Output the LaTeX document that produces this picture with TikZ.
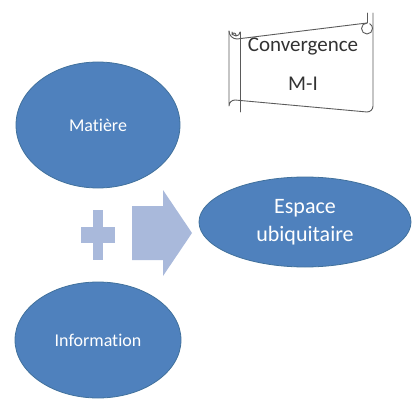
\documentclass[tikz,border=0pt]{standalone}
\usepackage{fontspec}
\setmainfont[Ligatures=CommonOff]{Carlito}
\usetikzlibrary{shapes.geometric}
\definecolor{ovalblue}{HTML}{4F81BD}
\definecolor{ovaledge}{HTML}{41719C}
\definecolor{paleblue}{HTML}{A9B9DB}
\definecolor{scrollline}{HTML}{5A5A5A}
\tikzset{
  oval/.style={ellipse, fill=ovalblue, draw=ovaledge, line width=0.8pt,
    text=white, inner sep=0pt, align=center},
  pale/.style={fill=paleblue, draw=none},
  scrollpen/.style={draw=scrollline, line width=0.9pt, line join=round, line cap=round},
  scrolltext/.style={text=black!80, inner sep=0pt, font=\fontsize{21}{24}\selectfont}
}
\begin{document}
\begin{tikzpicture}[x=1pt,y=-1pt]
\useasboundingbox (0,0) rectangle (412,401);

% the two source ovals and the resulting one
\node[oval, minimum width=164, minimum height=126, font=\fontsize{18}{20}\selectfont]
  (matiere) at (98,125) {Matière};
\node[oval, minimum width=166, minimum height=116, font=\fontsize{18}{20}\selectfont]
  (information) at (98,340) {Information};
\node[oval, minimum width=212, minimum height=90, font=\fontsize{22}{28}\selectfont]
  (espace) at (305,222) {Espace\\ubiquitaire};

% plus sign
\fill[pale] (93,210) rectangle (103,260);
\fill[pale] (81,227) rectangle (115,243);

% block arrow
\fill[pale] (132,206) -- (163,206) -- (163,190) -- (192,233) -- (163,276)
  -- (163,260) -- (132,260) -- cycle;

% scroll outline: body, rolled top edge and inner fold
\path[scrollpen] (229,31) -- (229,106) arc[start angle=180, end angle=270, radius=6] -- (367,112)
  arc[start angle=90, end angle=0, radius=6] -- (373,13);
\path[scrollpen] (240,32) -- (240,112);
\path[scrollpen] (229,31) arc[start angle=180, end angle=90, radius=8] -- (367,23);
% top-right curl
\path[scrollpen] (367,23) arc[start angle=270, end angle=-60, radius=5.5];
\path[scrollpen] (367,13) -- (367,23);
% top-left curl
\path[scrollpen] (240,32) arc[start angle=0, end angle=180, radius=4] -- (232,35)
  arc[start angle=180, end angle=360, radius=2];

\node[scrolltext] (conv) at (303,46) {Convergence};
\node[scrolltext] (mi) at (303,84) {M-I};
\end{tikzpicture}
\end{document}
